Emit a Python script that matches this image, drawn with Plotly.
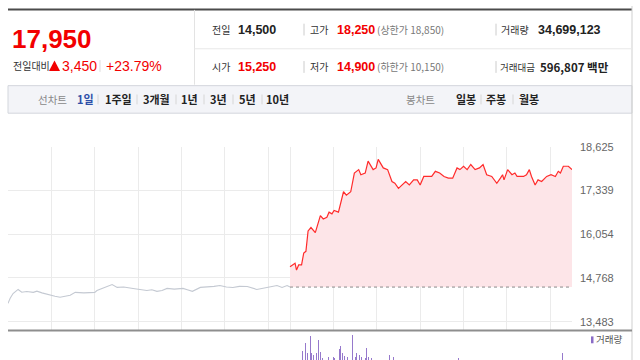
import plotly.graph_objects as go

# ---------------- data ----------------
# previous session (minutes from 09:00) and price
prev_min = [0, 3, 7, 14, 19, 26, 35, 40, 47, 58, 65, 72, 80, 86, 93, 105, 120, 123, 130, 137,
            144, 151, 160, 173, 182, 192, 199, 206, 213, 220, 230, 242, 248, 255, 266, 275,
            285, 293, 302, 311, 320, 331, 338, 344, 351, 358, 365, 372, 379, 386, 390]
prev_price = [14020, 14170, 14310, 14430, 14350, 14370, 14345, 14380, 14330, 14260, 14230,
              14200, 14230, 14260, 14345, 14330, 14345, 14400, 14460, 14520, 14575, 14490,
              14500, 14460, 14440, 14400, 14420, 14375, 14400, 14460, 14440, 14460, 14420,
              14375, 14490, 14500, 14520, 14546, 14500, 14488, 14520, 14517, 14480, 14431,
              14460, 14488, 14510, 14546, 14488, 14546, 14500]

# today's session (minutes from 09:00) and price
today_min = [0, 7, 9, 12, 16, 19, 22, 25, 29, 35, 42, 46, 51, 54, 58, 61, 67, 74, 78, 84, 89,
             95, 98, 104, 108, 115, 119, 122, 129, 135, 141, 145, 150, 155, 160, 165, 171, 176,
             180, 185, 191, 196, 201, 207, 213, 219, 225, 231, 235, 240, 245, 250, 256, 262,
             267, 272, 279, 286, 291, 294, 296, 301, 307, 311, 314, 323, 327, 331, 334, 339,
             343, 348, 355, 361, 367, 371, 374, 378, 385, 390]
today_price = [15100, 15200, 15000, 15150, 15150, 15500, 15550, 16150, 16250, 16100, 16600,
               16500, 16550, 16700, 16650, 16750, 16700, 17300, 17200, 17300, 17850, 17950,
               17800, 17850, 18200, 17950, 18000, 18250, 18000, 17950, 17600, 17550, 17400,
               17500, 17600, 17500, 17650, 17650, 17500, 17750, 17750, 17750, 17900, 17850,
               17750, 17700, 17700, 18000, 17950, 18050, 17950, 18100, 17950, 18000, 18100,
               17800, 17750, 17550, 17700, 17800, 17650, 17950, 17800, 17850, 17750, 17750,
               17800, 17950, 17750, 17500, 17650, 17600, 17750, 17800, 17750, 17900, 17850,
               18050, 18050, 17950]

prev_close = 14500

# today's volume bars (minutes from 09:00, shares)
vol_min = [0, 17, 22, 24, 28, 30, 33, 36, 40, 42, 45, 53, 60, 62, 65, 68, 70, 73, 76, 80,
           83, 87, 90, 92, 96, 99, 104, 106, 108, 113, 138, 143, 148, 233, 377, 390]
vol_qty = [830000, 930000, 1700000, 700000, 2400000, 700000, 500000, 700000, 2070000, 830000,
           170000, 330000, 330000, 170000, 670000, 1070000, 1400000, 670000, 400000, 330000,
           500000, 2500000, 330000, 730000, 500000, 330000, 170000, 1170000, 330000, 170000,
           500000, 330000, 670000, 170000, 730000, 600000]

y_ticks = [13483, 14768, 16054, 17339, 18625]

# ---------------- figure ----------------
W, H = 640, 360
SESSION = 390
RED = "#f20000"


def px(x):
    return x / W


def py(y):
    return 1 - y / H


fig = go.Figure()

fig.add_trace(go.Scatter(x=prev_min, y=prev_price, mode="lines",
                         line=dict(color="#c4c9d2", width=1.1), hoverinfo="skip",
                         showlegend=False))

today_x = [m + SESSION for m in today_min]
base_x = [today_x[0], today_x[-1]]
fig.add_trace(go.Scatter(x=base_x, y=[prev_close, prev_close], mode="lines",
                         line=dict(width=0, color="rgba(0,0,0,0)"), hoverinfo="skip",
                         showlegend=False))
fig.add_trace(go.Scatter(x=today_x, y=today_price, mode="lines", fill="tonexty",
                         fillcolor="#fde5e8", line=dict(color="#ff2b2b", width=1.2),
                         hoverinfo="skip", showlegend=False))
fig.add_trace(go.Scatter(x=base_x, y=[prev_close, prev_close], mode="lines",
                         line=dict(width=1, color="#8a8a8a", dash="dot"), hoverinfo="skip",
                         showlegend=False))

fig.add_trace(go.Bar(x=[m + SESSION for m in vol_min], y=vol_qty, width=1.3,
                     marker=dict(color="#9679cc", line=dict(width=0)),
                     xaxis="x2", yaxis="y2", hoverinfo="skip", showlegend=False))

grid_x = [h * 60 for h in range(7)] + [SESSION + h * 60 for h in range(7)]

fig.update_layout(
    width=W, height=H,
    margin=dict(l=0, r=0, t=0, b=0),
    paper_bgcolor="white", plot_bgcolor="white",
    font=dict(family="Liberation Sans, Noto Sans CJK KR, sans-serif", color="#333"),
    xaxis=dict(domain=[px(8), px(572)], range=[0, 2 * SESSION], tickvals=grid_x,
               showticklabels=False, ticks="", showgrid=True, gridcolor="#ebebeb",
               gridwidth=1, zeroline=False, showline=False, fixedrange=True),
    yaxis=dict(domain=[py(329), py(143)], range=[13253, 18626], side="right",
               tickvals=y_ticks, tickformat=",", ticks="", ticklabelstandoff=7,
               tickfont=dict(size=11, color="#666", family="Liberation Sans, Arial"),
               showgrid=True, gridcolor="#ebebeb", zeroline=False, showline=False),
    xaxis2=dict(domain=[px(8), px(572)], range=[0, 2 * SESSION], anchor="y2",
                showticklabels=False, showgrid=False, zeroline=False, ticks=""),
    yaxis2=dict(domain=[0, py(331)], range=[0, 2900000], anchor="x2",
                showticklabels=False, showgrid=False, zeroline=False, ticks=""),
    bargap=0,
)

shapes = []


def hline(x0, x1, y, color, width=1):
    shapes.append(dict(type="line", xref="paper", yref="paper", x0=px(x0), x1=px(x1),
                       y0=py(y), y1=py(y), line=dict(color=color, width=width)))


def vline(x, y0, y1, color, width=1):
    shapes.append(dict(type="line", xref="paper", yref="paper", x0=px(x), x1=px(x),
                       y0=py(y0), y1=py(y1), line=dict(color=color, width=width)))


# header frame
hline(8, 632, 3.5, "#4b4b4b", 2)
vline(632, 0, 360, "#cfcfcf")
vline(194.5, 4, 80, "#e3e3e3")
hline(194.5, 632, 43.5, "#e8e8e8")
# tab bar
shapes.append(dict(type="rect", xref="paper", yref="paper", x0=px(8), x1=px(632),
                   y0=py(109), y1=py(81), fillcolor="#f3f4f8",
                   line=dict(color="#d3d6dc", width=1), layer="below"))
# header separators
for xs in (304, 496):
    vline(xs, 18, 30, "#cccccc")
    vline(xs, 56, 68, "#cccccc")
vline(100, 55, 67, "#dddddd")
for xs in (98, 137, 176, 204, 233, 262, 481, 513):
    vline(xs, 90, 100, "#d6d6d6")
# chart / volume separator
hline(8, 632, 330, "#8e8e8e", 2)
# volume legend square
shapes.append(dict(type="rect", xref="paper", yref="paper", x0=px(591), x1=px(593.5),
                   y0=py(343), y1=py(336), fillcolor="#8a6cc6", line=dict(width=0)))
# up triangle (전일대비)
shapes.append(dict(type="path", xref="paper", yref="paper",
                   path=f"M {px(49)},{py(66)} L {px(60)},{py(66)} L {px(54.5)},{py(55.5)} Z",
                   fillcolor=RED, line=dict(width=0)))

fig.update_layout(shapes=shapes)

ann = []
KR = "Noto Sans CJK KR, Liberation Sans, sans-serif"
NUM = "Liberation Sans, Arial, sans-serif"


def txt(x, y, text, size, color, family=NUM, bold=False):
    ann.append(dict(x=px(x), y=py(y), xref="paper", yref="paper", xanchor="left",
                    yanchor="middle", showarrow=False, borderpad=0,
                    text=f"<b>{text}</b>" if bold else text,
                    font=dict(size=size, color=color, family=family)))


# left price box
txt(11, 34, "17,950", 26, RED, NUM, True)
txt(12, 61, "전일대비", 10, "#333", KR)
txt(61, 61, "3,450", 14, RED)
txt(105, 61, "+23.79%", 14, RED)

# right info rows
LBL = 10
txt(211, 24, "전일", LBL, "#333", KR)
txt(237, 24, "14,500", 12.5, "#222", NUM, True)
txt(309, 24, "고가", LBL, "#333", KR)
txt(336, 24, "18,250", 12.5, RED, NUM, True)
txt(376, 24, "(상한가 18,850)", LBL, "#777", KR)
txt(500, 24, "거래량", LBL, "#333", KR)
txt(537, 24, "34,699,123", 12.5, "#222", NUM, True)

txt(211, 62, "시가", LBL, "#333", KR)
txt(237, 62, "15,250", 12.5, RED, NUM, True)
txt(309, 62, "저가", LBL, "#333", KR)
txt(336, 62, "14,900", 12.5, RED, NUM, True)
txt(376, 62, "(하한가 10,150)", LBL, "#777", KR)
txt(499, 62, "거래대금", 9.5, "#333", KR)
txt(539, 62, "596,807 백만", 11.5, "#222", KR, True)

# tab bar
txt(37, 95, "선차트", 10.5, "#888", KR)
txt(76, 95, "1일", 11, "#2d4fa8", KR, True)
for x, t in ((104, "1주일"), (142, "3개월"), (180, "1년"), (209, "3년"), (238, "5년"), (265, "10년")):
    txt(x, 95, t, 11, "#222", KR, True)
txt(405, 95, "봉차트", 10.5, "#888", KR)
for x, t in ((455, "일봉"), (485, "주봉"), (518, "월봉")):
    txt(x, 95, t, 11, "#222", KR, True)

# volume legend
txt(595, 339, "거래량", 9.5, "#555", KR)

fig.update_layout(annotations=ann)

fig.write_html("out.html", config={"displayModeBar": False, "staticPlot": True})

# remove the default page margin so the figure sits at the window's top-left corner
with open("out.html", "r", encoding="utf-8") as f:
    html = f.read()
html = html.replace("<body>", '<body style="margin:0;padding:0;overflow:hidden">', 1)
html = html.replace("<head>", '<head><style>html,body{margin:0;padding:0;}</style>', 1)
with open("out.html", "w", encoding="utf-8") as f:
    f.write(html)
